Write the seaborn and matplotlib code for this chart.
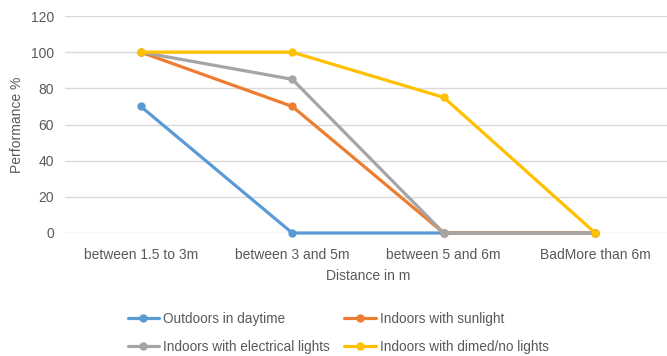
import pandas as pd
import matplotlib
matplotlib.use("Agg")
import matplotlib.pyplot as plt
import seaborn as sns

# chart data
distances = ["between 1.5 to 3m", "between 3 and 5m", "between 5 and 6m", "BadMore than 6m"]
outdoors_daytime = [70, 0, 0, 0]
indoors_sunlight = [100, 70, 0, 0]
indoors_electrical = [100, 85, 0, 0]
indoors_dimmed = [100, 100, 75, 0]
series_names = ["Outdoors in daytime", "Indoors with sunlight",
                "Indoors with electrical lights", "Indoors with dimed/no lights"]
colors = ["#5B9BD5", "#ED7D31", "#A5A5A5", "#FFC000"]

# long form table for seaborn
rows = []
for name, values in zip(series_names, [outdoors_daytime, indoors_sunlight, indoors_electrical, indoors_dimmed]):
    for i, v in enumerate(values):
        rows.append({"pos": i, "Distance": distances[i], "Performance": v, "series": name})
df = pd.DataFrame(rows)

sns.set_style("white")
plt.rcParams['font.family'] = ['Liberation Sans', 'DejaVu Sans']
text_col = "#595959"

fig = plt.figure(figsize=(6.67, 3.56), dpi=100)
ax = fig.add_axes([65/667, (356-233)/356, 606/667, 217/356])

sns.lineplot(data=df, x="pos", y="Performance", hue="series", hue_order=series_names,
             palette=colors, marker="o", markersize=6, markeredgewidth=0,
             linewidth=2.3, sort=False, ax=ax, legend=False, clip_on=False)

ax.set_xlim(-0.5, 3.5)
ax.set_ylim(0, 120)
ax.set_yticks(range(0, 121, 20))
ax.set_xticks(range(len(distances)))
ax.set_xticklabels(distances)
ax.tick_params(axis="both", length=0, labelsize=10, colors=text_col)
ax.tick_params(axis="y", pad=8)
ax.tick_params(axis="x", pad=11)
ax.grid(axis="y", color="#D9D9D9", linewidth=1)
ax.set_axisbelow(True)
for s in ax.spines.values():
    s.set_visible(False)

ax.set_xlabel("Distance in m", fontsize=10, color=text_col, labelpad=5)
ax.set_ylabel("Performance %", fontsize=10, color=text_col, labelpad=5)

# legend filled row by row like the reference (matplotlib fills by column)
handles = [plt.Line2D([], [], color=c, linewidth=2.3, marker="o", markersize=5) for c in colors]
order = [0, 2, 1, 3]
fig.legend([handles[i] for i in order], [series_names[i] for i in order], ncol=2, loc="upper left",
           bbox_to_anchor=(121/667, 1 - 305/356), frameon=False, fontsize=9.8,
           labelcolor=text_col, handlelength=2.3, handletextpad=0.3,
           columnspacing=1.05, labelspacing=1.05, borderpad=0, numpoints=1)

fig.savefig("out.png", dpi=100)
